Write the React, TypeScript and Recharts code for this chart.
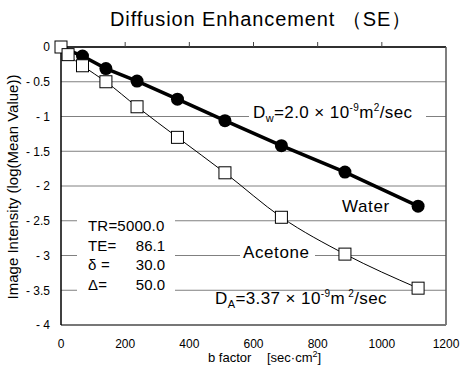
import type { JSX } from "react";
import { CartesianGrid, Customized, Line, LineChart, ReferenceLine, XAxis, YAxis } from "recharts";

// b factor [sec·cm²] and log(mean value)
const bFactor = [0, 22, 67, 140, 237, 363, 511, 687, 885, 1113];
const water: (number | null)[] = [0, null, -0.13, -0.31, -0.49, -0.75, -1.06, -1.42, -1.8, -2.29];
const acetone = [0, -0.11, -0.27, -0.5, -0.86, -1.3, -1.81, -2.45, -2.98, -3.47];

const xTicks = [0, 200, 400, 600, 800, 1000, 1200];
const topTicks = [200, 400, 600, 800, 1000];
const yTicks = [0, -0.5, -1, -1.5, -2, -2.5, -3, -3.5, -4];

const params = [
  ["TR=5000.0", ""],
  ["TE=", "86.1"],
  ["δ =", "30.0"],
  ["Δ=", "50.0"],
];

const FONT = "'Liberation Sans', Arial, Helvetica, sans-serif";

const rows = bFactor.map((b, i) => ({ b, water: water[i], acetone: acetone[i] }));

function fmtY(v: number): string {
  return v === 0 ? "0" : `- ${Math.abs(v)}`;
}

function WaterDot(props: any): JSX.Element | null {
  const { cx, cy, index, value } = props;
  if (value == null || index === 0) return null;
  return <circle key={`w${index}`} cx={cx} cy={cy} r={6.5} fill="#000" />;
}

function AcetoneDot(props: any): JSX.Element {
  const { cx, cy, index } = props;
  return (
    <rect key={`a${index}`} x={cx - 6} y={cy - 6} width={12} height={12} fill="#fff" stroke="#000" strokeWidth={1} />
  );
}

function Notes(): JSX.Element {
  return (
    <g fontFamily={FONT} fill="#000">
      <text x={261} y={26} fontSize={20} textAnchor="middle" letterSpacing={0.9}>
        Diffusion Enhancement （SE）
      </text>
      <text x={18} y={187} fontSize={15} textAnchor="middle" transform="rotate(-90 18 187)">
        Image Intensity (log(Mean Value))
      </text>
      <text x={208} y={362} fontSize={13}>b factor</text>
      <text x={267} y={362} fontSize={13}>
        [sec·cm<tspan fontSize={9} dy={-5}>2</tspan>
        <tspan dy={5}>]</tspan>
      </text>

      <rect x={77} y={214} width={98} height={79} fill="#fff" />
      {params.map(([k, v], i) => (
        <g key={k} fontSize={15}>
          <text x={88} y={231 + i * 19.5} letterSpacing={0.2}>{k}</text>
          {v ? (
            <text x={165} y={231 + i * 19.5} textAnchor="end">{v}</text>
          ) : null}
        </g>
      ))}

      <rect x={249} y={105} width={177} height={20} fill="#fff" />
      <text x={253} y={118} fontSize={17} letterSpacing={0.4}>
        D<tspan fontSize={11} dy={4}>w</tspan>
        <tspan dy={-4}>=2.0 × 10</tspan>
        <tspan fontSize={10} dy={-7}>-9</tspan>
        <tspan dy={7}>m</tspan>
        <tspan fontSize={10} dy={-7}>2</tspan>
        <tspan dy={7}>/sec</tspan>
      </text>

      <text x={342} y={212} fontSize={17} letterSpacing={0.6}>Water</text>

      <rect x={240} y={244} width={75} height={19} fill="#fff" />
      <text x={243} y={258} fontSize={17} letterSpacing={0.6}>Acetone</text>

      <text x={215} y={304} fontSize={17} letterSpacing={0.4}>
        D<tspan fontSize={11} dy={4}>A</tspan>
        <tspan dy={-4}>=3.37 × 10</tspan>
        <tspan fontSize={10} dy={-7}>-9</tspan>
        <tspan dy={7}>m</tspan>
        <tspan fontSize={10} dy={-7}> 2</tspan>
        <tspan dy={7}>/sec</tspan>
      </text>
    </g>
  );
}

export default function App(): JSX.Element {
  return (
    <div style={{ position: "absolute", left: 0, top: 0, width: 467, height: 372, background: "#fff" }}>
      <LineChart width={467} height={372} data={rows} margin={{ top: 42, right: 21, bottom: 0, left: 0 }}>
        <CartesianGrid vertical={false} stroke="#808080" strokeWidth={1} />
        <XAxis
          dataKey="b"
          type="number"
          domain={[0, 1200]}
          ticks={xTicks}
          height={47}
          tickSize={0}
          tickMargin={14}
          axisLine={{ stroke: "#777", strokeWidth: 2 }}
          tick={{ fontSize: 12, fill: "#000", fontFamily: FONT }}
        />
        <XAxis
          xAxisId="top"
          orientation="top"
          dataKey="b"
          type="number"
          domain={[0, 1200]}
          ticks={topTicks}
          height={5}
          tickSize={5}
          axisLine={false}
          tickLine={{ stroke: "#444" }}
          tickFormatter={() => ""}
        />
        <YAxis
          type="number"
          domain={[-4, 0]}
          ticks={yTicks}
          width={61}
          tickSize={0}
          tickMargin={11}
          tickFormatter={fmtY}
          axisLine={{ stroke: "#000", strokeWidth: 1.5 }}
          tick={{ fontSize: 12, fill: "#000", fontFamily: FONT }}
        />
        <ReferenceLine y={0} stroke="#000" strokeWidth={1.5} />
        <ReferenceLine x={1200} stroke="#555" strokeWidth={1.5} />
        <Customized component={Notes} />
        <Line
          dataKey="water"
          type="linear"
          stroke="#000"
          strokeWidth={3.5}
          connectNulls
          dot={WaterDot}
          activeDot={false}
          isAnimationActive={false}
        />
        <Line
          dataKey="acetone"
          type="monotone"
          stroke="#000"
          strokeWidth={1}
          dot={AcetoneDot}
          activeDot={false}
          isAnimationActive={false}
        />
      </LineChart>
    </div>
  );
}
